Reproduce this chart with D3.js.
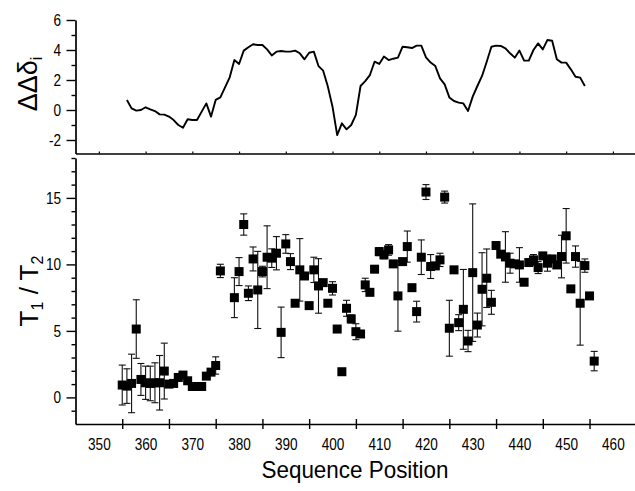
<!DOCTYPE html>
<html><head><meta charset="utf-8">
<script src="https://cdn.jsdelivr.net/npm/d3@7"></script>
<style>
html,body{margin:0;padding:0;background:#fff;}
svg{display:block;}
text{font-family:"Liberation Sans",Arial,sans-serif;fill:#000;}
</style></head>
<body>
<svg id="chart" width="635" height="491"></svg>
<script>
// ---------- data ----------
const topPositions = [356,357,358,359,360,361,362,363,364,365,366,367,368,369,370,371,372,373,374,375,376,377,378,379,380,381,382,383,384,385,386,387,388,389,390,391,392,393,394,395,396,397,398,399,400,401,402,403,404,405,406,407,408,409,410,411,412,413,414,415,416,417,418,419,420,421,422,423,424,425,426,427,428,429,430,431,432,433,434,435,436,437,438,439,440,441,442,443,444,445,446,447,448,449,450,451,452,453,454];
const deltaDelta = [0.67,0.11,-0.04,0.0,0.18,0.04,-0.07,-0.29,-0.31,-0.44,-0.67,-1.0,-1.18,-0.62,-0.67,-0.67,-0.11,0.44,-0.44,0.67,0.84,1.51,2.18,3.33,3.07,3.96,4.18,4.38,4.33,4.33,4.04,3.64,3.89,3.93,3.89,3.89,3.96,3.78,3.38,3.82,3.89,2.93,2.62,1.56,0.22,-1.67,-0.89,-1.29,-1.0,-0.33,1.6,1.93,2.33,3.22,3.07,3.56,3.33,3.42,3.49,4.22,4.18,4.13,4.29,4.29,3.51,3.16,2.93,2.11,1.71,0.84,0.6,0.49,0.44,-0.07,0.89,1.6,2.27,3.22,4.22,4.29,4.27,4.11,3.78,3.49,3.96,3.29,3.29,4.0,4.44,4.04,4.67,4.62,3.38,3.16,3.16,2.71,2.22,2.16,1.6];

const ratioPositions = [355,356,357,358,359,360,361,362,363,364,365,366,367,368,369,370,371,372,373,374,375,376,379,380,381,382,383,384,385,386,387,388,389,390,391,392,393,394,395,396,397,398,399,400,401,402,403,404,405,406,407,408,409,410,411,412,413,414,415,416,417,418,419,420,421,422,423,424,425,426,427,428,429,430,431,432,433,434,435,436,437,438,439,440,441,442,443,444,445,446,447,448,449,450,451,452,453,454,455,456];
const ratioValues = [0.93,0.85,1.05,5.14,1.35,1.1,1.05,1.1,1.1,1.98,1.0,1.05,1.5,1.68,1.25,0.82,0.82,0.82,1.6,1.9,2.4,9.51,7.5,9.46,13.0,7.83,10.41,8.08,9.46,10.54,10.47,10.84,4.89,11.54,10.21,7.08,9.59,9.13,6.9,9.59,8.38,8.63,7.08,8.2,5.14,1.93,6.7,5.9,4.94,4.77,8.46,7.9,9.64,10.96,10.72,11.09,10.04,7.63,10.21,11.34,8.25,6.45,10.54,15.44,9.84,9.89,10.34,15.06,5.2,9.59,5.62,6.62,4.24,9.38,5.44,8.13,8.96,7.15,11.42,10.77,10.56,10.09,10.04,9.96,8.66,10.14,10.34,9.76,10.64,10.09,10.41,9.96,10.59,12.15,8.16,10.59,7.08,9.91,7.63,2.73];
const ratioErrors = [1.5,1.3,2.2,2.2,1.2,1.25,1.3,1.5,2.05,2.1,0,0,0,0,0,0,0,0,0,0,0.65,0.5,1.5,1.05,0.8,0.55,0.9,2.9,0.4,2.36,0.7,1.25,1.9,0.7,0.6,0,2.35,0,0,0.95,2.05,0,0,0.5,0,0,0.6,0.3,0.6,0,0.5,0,0,0.3,0.3,0.4,0,2.65,0,1.17,0,0.78,1.3,0.56,0.9,0,0.5,0.45,2.1,0,0.6,3.0,0.8,5.17,0.9,2.75,2.2,0.9,0,0,1.9,0.75,0,1.3,0,0,0.4,0.45,0,0.6,0,0,1.6,2.05,0,0.8,3.15,0.5,0,0.73];

const xLabelTicks = [350,360,370,380,390,400,410,420,430,440,450,460];
const xCrossTicks = [355,365,375,385,395,405,415,425,435,445,455];
const topMajorTicks = [-2,0,2,4,6];
const topMinorTicks = [-1,1,3,5];
const botMajorTicks = [0,5,10,15];
const botMinorTicks = [-1,1,2,3,4,6,7,8,9,11,12,13,14,16,17,18];

// ---------- layout ----------
const svg = d3.select("#chart");
const AX = 75.5;
const x = d3.scaleLinear().domain([345,465]).range([AX, AX + 120*4.673]);
const yTop = d3.scaleLinear().domain([-2.9,6]).range([153.5,20]);
const yBot = d3.scaleLinear().domain([-2,18]).range([424,158]);
const TICK_FONT = 16, SX = 0.85;
const fmt = d => String(d);   // plain hyphen-minus as in the original

function styleLeftAxis(g) {
  g.select(".domain").attr("stroke","#000").attr("stroke-width",1.7);
  g.selectAll(".tick line").attr("stroke","#000").attr("stroke-width",1.4);
  g.selectAll(".tick text")
    .attr("font-size",TICK_FONT)
    .attr("font-family","Liberation Sans, Arial, sans-serif")
    .attr("x", -14.5/SX)
    .attr("transform",`scale(${SX},1)`);
}

// ---- top panel ----
const gTop = svg.append("g");
gTop.append("g").attr("transform",`translate(${AX},0)`)
  .call(d3.axisLeft(yTop).tickValues(topMinorTicks).tickSize(4).tickSizeOuter(0).tickFormat(""))
  .call(g=>{g.select(".domain").remove(); g.selectAll(".tick line").attr("stroke","#000").attr("stroke-width",1.4);});
gTop.append("g").attr("transform",`translate(${AX},0)`)
  .call(d3.axisLeft(yTop).tickValues(topMajorTicks).tickSize(9).tickSizeOuter(0).tickFormat(fmt))
  .call(styleLeftAxis);
gTop.append("g").attr("transform",`translate(0,153.5)`)
  .call(d3.axisTop(x).tickValues(xLabelTicks).tickSize(2).tickSizeOuter(0).tickFormat(""))
  .call(g=>{g.select(".domain").attr("stroke","#000").attr("stroke-width",1.7);
            g.selectAll(".tick line").attr("stroke","#000").attr("stroke-width",1.2);});

const line = d3.line().x((d,i)=>x(topPositions[i])).y(d=>yTop(d));
gTop.append("path").datum(deltaDelta)
  .attr("d",line).attr("fill","none").attr("stroke","#000")
  .attr("stroke-width",1.9).attr("stroke-linejoin","round");

// ---- bottom panel ----
const gBot = svg.append("g");
gBot.append("g").attr("transform",`translate(${AX},0)`)
  .call(d3.axisLeft(yBot).tickValues(botMinorTicks).tickSize(4).tickSizeOuter(0).tickFormat(""))
  .call(g=>{g.select(".domain").remove(); g.selectAll(".tick line").attr("stroke","#000").attr("stroke-width",1.4);});
gBot.append("g").attr("transform",`translate(${AX},0)`)
  .call(d3.axisLeft(yBot).tickValues(botMajorTicks).tickSize(9).tickSizeOuter(0).tickFormat(fmt))
  .call(styleLeftAxis);

gBot.append("g").attr("transform",`translate(0,424)`)
  .call(d3.axisBottom(x).tickValues(xCrossTicks).tickSize(5).tickSizeOuter(0).tickFormat(""))
  .call(g=>{g.select(".domain").attr("stroke","#000").attr("stroke-width",1.7);
            g.selectAll(".tick line").attr("y1",-5).attr("y2",5).attr("stroke","#000").attr("stroke-width",1.4);});
gBot.append("g").attr("transform",`translate(0,424)`)
  .call(d3.axisBottom(x).tickValues(xLabelTicks).tickSize(0).tickPadding(14.5).tickFormat(fmt))
  .call(g=>{g.select(".domain").remove(); g.selectAll(".tick line").remove();
            g.selectAll(".tick text").attr("font-size",TICK_FONT)
              .attr("font-family","Liberation Sans, Arial, sans-serif")
              .attr("transform",`scale(${SX},1)`);});

// error bars
const errData = ratioPositions.map((p,i)=>({p, v:ratioValues[i], e:ratioErrors[i]})).filter(d=>d.e>0);
const eg = gBot.append("g").attr("stroke","#111").attr("stroke-width",1.1);
eg.selectAll("line.v").data(errData).join("line").attr("class","v")
  .attr("x1",d=>x(d.p)).attr("x2",d=>x(d.p))
  .attr("y1",d=>yBot(d.v+d.e)).attr("y2",d=>yBot(d.v-d.e));
eg.selectAll("line.t").data(errData).join("line").attr("class","t")
  .attr("x1",d=>x(d.p)-3.5).attr("x2",d=>x(d.p)+3.5)
  .attr("y1",d=>yBot(d.v+d.e)).attr("y2",d=>yBot(d.v+d.e));
eg.selectAll("line.b").data(errData).join("line").attr("class","b")
  .attr("x1",d=>x(d.p)-3.5).attr("x2",d=>x(d.p)+3.5)
  .attr("y1",d=>yBot(d.v-d.e)).attr("y2",d=>yBot(d.v-d.e));

// squares
const S = 9;
gBot.append("g").selectAll("rect").data(ratioValues).join("rect")
  .attr("x",(d,i)=>x(ratioPositions[i])-S/2)
  .attr("y",d=>yBot(d)-S/2)
  .attr("width",S).attr("height",S).attr("fill","#000");

// ---- titles ----
svg.append("text").attr("x",355).attr("y",478).attr("text-anchor","middle")
  .attr("font-size",24).attr("textLength",187).attr("lengthAdjust","spacingAndGlyphs")
  .text("Sequence Position");

const tTop = svg.append("text").attr("transform","translate(37,84) rotate(-90)")
  .attr("text-anchor","middle").attr("font-size",27);
tTop.append("tspan").text("ΔΔδ");
tTop.append("tspan").attr("font-size",16).attr("dy",5).text("i");

const tBot = svg.append("text").attr("transform","translate(38,291) rotate(-90)")
  .attr("text-anchor","middle").attr("font-size",26);
tBot.append("tspan").text("T");
tBot.append("tspan").attr("font-size",16).attr("dy",5).text("1");
tBot.append("tspan").attr("dy",-5).text(" / T");
tBot.append("tspan").attr("font-size",16).attr("dy",5).text("2");
</script>
</body></html>
